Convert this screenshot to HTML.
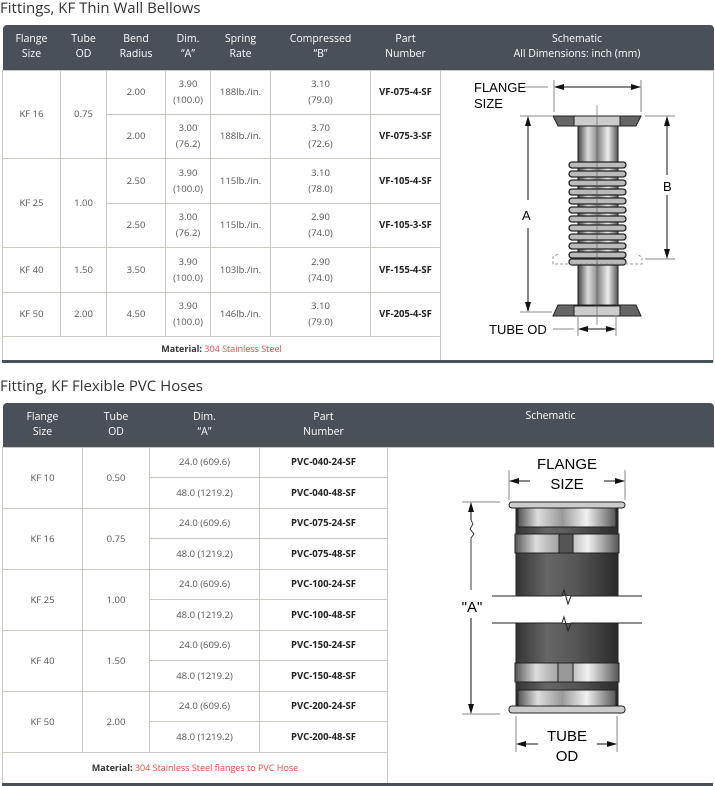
<!DOCTYPE html>
<html><head><meta charset="utf-8"><style>
*{margin:0;padding:0;box-sizing:border-box}
body{width:715px;height:786px;background:#fff;font-family:"Open Sans","Liberation Sans",sans-serif;position:relative;overflow:hidden}
h2{position:absolute;left:0;font-weight:normal;font-size:15px;color:#333;white-space:nowrap}
table{position:absolute;left:2px;border-collapse:collapse;table-layout:fixed}
th{background:#4a5057;color:#fff;font-weight:normal;font-size:10.5px;line-height:15px;text-align:center;vertical-align:middle}
td{border:1px solid #c9c7bf;font-size:9.5px;color:#555;text-align:center;vertical-align:middle;line-height:16px}
td.b{font-weight:bold;color:#222}
td.m{font-size:9px;color:#333}
.r{color:#ef4444}
.bar{position:absolute;left:2px;width:711px;height:3px;background:#4a5057}
svg{position:absolute}
</style></head><body>
<h2 style="top:-2px">Fittings, KF Thin Wall Bellows</h2>
<table style="top:25px;width:711px">
<colgroup><col style="width:58px"><col style="width:46px"><col style="width:59px"><col style="width:45px"><col style="width:60px"><col style="width:100px"><col style="width:70px"><col style="width:273px"></colgroup>
<tr style="height:45px"><th style="border-top-left-radius:4px">Flange<br>Size</th><th>Tube<br>OD</th><th>Bend<br>Radius</th><th>Dim.<br>“A”</th><th>Spring<br>Rate</th><th>Compressed<br>“B”</th><th>Part<br>Number</th><th style="border-top-right-radius:4px">Schematic<br>All Dimensions: inch (mm)</th></tr>
<tr style="height:44px"><td rowspan="2">KF 16</td><td rowspan="2">0.75</td><td>2.00</td><td>3.90<br>(100.0)</td><td>188lb./in.</td><td>3.10<br>(79.0)</td><td class="b">VF-075-4-SF</td><td rowspan="7" style="border-right:1px solid #c9c7bf"></td></tr>
<tr style="height:44px"><td>2.00</td><td>3.00<br>(76.2)</td><td>188lb./in.</td><td>3.70<br>(72.6)</td><td class="b">VF-075-3-SF</td></tr>
<tr style="height:45px"><td rowspan="2">KF 25</td><td rowspan="2">1.00</td><td>2.50</td><td>3.90<br>(100.0)</td><td>115lb./in.</td><td>3.10<br>(78.0)</td><td class="b">VF-105-4-SF</td></tr>
<tr style="height:44px"><td>2.50</td><td>3.00<br>(76.2)</td><td>115lb./in.</td><td>2.90<br>(74.0)</td><td class="b">VF-105-3-SF</td></tr>
<tr style="height:45px"><td>KF 40</td><td>1.50</td><td>3.50</td><td>3.90<br>(100.0)</td><td>103lb./in.</td><td>2.90<br>(74.0)</td><td class="b">VF-155-4-SF</td></tr>
<tr style="height:44px"><td>KF 50</td><td>2.00</td><td>4.50</td><td>3.90<br>(100.0)</td><td>146lb./in.</td><td>3.10<br>(79.0)</td><td class="b">VF-205-4-SF</td></tr>
<tr style="height:25px"><td colspan="7" class="m"><b>Material:</b> <span class="r">304 Stainless Steel</span></td></tr>
</table>
<div class="bar" style="top:360px"></div>

<svg style="left:440px;top:70px" width="273" height="290" viewBox="440 70 273 290" font-family="Liberation Sans,sans-serif">
<defs>
<linearGradient id="m" x1="0" x2="1"><stop offset="0" stop-color="#444"/><stop offset=".25" stop-color="#ddd"/><stop offset=".5" stop-color="#888"/><stop offset=".75" stop-color="#eee"/><stop offset="1" stop-color="#555"/></linearGradient>
<marker id="ar" markerWidth="10" markerHeight="8" refX="9" refY="4" orient="auto"><path d="M0,1L10,4L0,7z" fill="#111"/></marker>
</defs>
<text x="474" y="92" font-size="13">FLANGE</text><text x="474" y="108" font-size="13">SIZE</text>
<line x1="524" y1="87" x2="548" y2="87" stroke="#888"/>
<line x1="554" y1="80" x2="554" y2="112" stroke="#888"/><line x1="641" y1="80" x2="641" y2="112" stroke="#888"/>
<line x1="597" y1="87" x2="555" y2="87" stroke="#111" marker-end="url(#ar)"/><line x1="597" y1="87" x2="640" y2="87" stroke="#111" marker-end="url(#ar)"/>
<line x1="520" y1="116" x2="552" y2="116" stroke="#888"/><line x1="520" y1="312" x2="552" y2="312" stroke="#888"/>
<line x1="528" y1="200" x2="528" y2="117" stroke="#111" marker-end="url(#ar)"/><line x1="528" y1="228" x2="528" y2="311" stroke="#111" marker-end="url(#ar)"/>
<text x="522" y="220" font-size="13">A</text>
<line x1="645" y1="116" x2="675" y2="116" stroke="#888"/><line x1="645" y1="259" x2="675" y2="259" stroke="#888"/>
<line x1="667" y1="175" x2="667" y2="117" stroke="#111" marker-end="url(#ar)"/><line x1="667" y1="195" x2="667" y2="258" stroke="#111" marker-end="url(#ar)"/>
<text x="663" y="191" font-size="13">B</text>
<rect x="578" y="124" width="40" height="184" fill="url(#m)" stroke="#222"/>
<g fill="#bbb" stroke="#222" stroke-width="1.3">
<rect x="569" y="162" width="57" height="6" rx="3"/><rect x="569" y="171" width="57" height="6" rx="3"/><rect x="569" y="180" width="57" height="6" rx="3"/><rect x="569" y="189" width="57" height="6" rx="3"/><rect x="569" y="198" width="57" height="6" rx="3"/><rect x="569" y="207" width="57" height="6" rx="3"/><rect x="569" y="216" width="57" height="6" rx="3"/><rect x="569" y="225" width="57" height="6" rx="3"/><rect x="569" y="234" width="57" height="6" rx="3"/><rect x="569" y="243" width="57" height="6" rx="3"/><rect x="569" y="252" width="57" height="6" rx="3"/><rect x="569" y="259" width="57" height="6" rx="3"/>
</g>
<path d="M553,116H641L636,126H558Z" fill="#666" stroke="#222"/><rect x="574" y="116" width="46" height="10" fill="#ccc" stroke="#222"/>
<path d="M558,305H636L641,316H553Z" fill="#666" stroke="#222"/><rect x="574" y="306" width="46" height="10" fill="#ccc" stroke="#222"/>
<path d="M558,254L553,257V264H642V257L636,254" fill="none" stroke="#999" stroke-dasharray="3,2"/>
<line x1="597" y1="105" x2="597" y2="325" stroke="#555" stroke-width=".6"/>
<text x="489" y="334" font-size="13">TUBE OD</text>
<line x1="553" y1="329" x2="574" y2="329" stroke="#888"/>
<line x1="578" y1="315" x2="578" y2="336" stroke="#888"/><line x1="616" y1="315" x2="616" y2="336" stroke="#888"/>
<line x1="597" y1="329" x2="579" y2="329" stroke="#111" marker-end="url(#ar)"/><line x1="597" y1="329" x2="615" y2="329" stroke="#111" marker-end="url(#ar)"/>
</svg>

<h2 style="top:376px">Fitting, KF Flexible PVC Hoses</h2>
<table style="top:403px;width:711px">
<colgroup><col style="width:80px"><col style="width:67px"><col style="width:110px"><col style="width:128px"><col style="width:326px"></colgroup>
<tr style="height:44px"><th style="border-top-left-radius:4px">Flange<br>Size</th><th>Tube<br>OD</th><th>Dim.<br>“A”</th><th>Part<br>Number</th><th style="border-top-right-radius:4px;vertical-align:top;padding-top:6px">Schematic</th></tr>
<tr style="height:30.5px"><td rowspan="2">KF 10</td><td rowspan="2">0.50</td><td>24.0 (609.6)</td><td class="b">PVC-040-24-SF</td><td rowspan="11" style="border-bottom:none;border-right:none"></td></tr>
<tr style="height:30.5px"><td>48.0 (1219.2)</td><td class="b">PVC-040-48-SF</td></tr>
<tr style="height:30.5px"><td rowspan="2">KF 16</td><td rowspan="2">0.75</td><td>24.0 (609.6)</td><td class="b">PVC-075-24-SF</td></tr>
<tr style="height:30.5px"><td>48.0 (1219.2)</td><td class="b">PVC-075-48-SF</td></tr>
<tr style="height:30.5px"><td rowspan="2">KF 25</td><td rowspan="2">1.00</td><td>24.0 (609.6)</td><td class="b">PVC-100-24-SF</td></tr>
<tr style="height:30.5px"><td>48.0 (1219.2)</td><td class="b">PVC-100-48-SF</td></tr>
<tr style="height:30.5px"><td rowspan="2">KF 40</td><td rowspan="2">1.50</td><td>24.0 (609.6)</td><td class="b">PVC-150-24-SF</td></tr>
<tr style="height:30.5px"><td>48.0 (1219.2)</td><td class="b">PVC-150-48-SF</td></tr>
<tr style="height:30.5px"><td rowspan="2">KF 50</td><td rowspan="2">2.00</td><td>24.0 (609.6)</td><td class="b">PVC-200-24-SF</td></tr>
<tr style="height:30.5px"><td>48.0 (1219.2)</td><td class="b">PVC-200-48-SF</td></tr>
<tr style="height:31px"><td colspan="4" class="m"><b>Material:</b> <span class="r">304 Stainless Steel flanges to PVC Hose</span></td></tr>
</table>
<div class="bar" style="top:783px"></div>

<svg style="left:440px;top:448px" width="273" height="335" viewBox="440 448 273 335" font-family="Liberation Sans,sans-serif">
<defs>
<linearGradient id="m2" x1="0" x2="1"><stop offset="0" stop-color="#555"/><stop offset=".2" stop-color="#ddd"/><stop offset=".45" stop-color="#999"/><stop offset=".7" stop-color="#f2f2f2"/><stop offset="1" stop-color="#555"/></linearGradient>
<linearGradient id="d2" x1="0" x2="1"><stop offset="0" stop-color="#333"/><stop offset=".3" stop-color="#666"/><stop offset=".6" stop-color="#555"/><stop offset="1" stop-color="#2a2a2a"/></linearGradient>
<marker id="ar2" markerWidth="10" markerHeight="8" refX="9" refY="4" orient="auto"><path d="M0,1L10,4L0,7z" fill="#111"/></marker>
</defs>
<text x="567" y="469" font-size="15" text-anchor="middle">FLANGE</text><text x="567" y="489" font-size="15" text-anchor="middle">SIZE</text>
<line x1="509" y1="470" x2="509" y2="500" stroke="#888"/><line x1="625" y1="470" x2="625" y2="500" stroke="#888"/>
<line x1="530" y1="481" x2="510" y2="481" stroke="#111" marker-end="url(#ar2)"/><line x1="604" y1="481" x2="624" y2="481" stroke="#111" marker-end="url(#ar2)"/>
<rect x="516" y="508" width="102" height="88" fill="url(#d2)" stroke="#222"/>
<rect x="518" y="505" width="98" height="22" fill="url(#m2)" stroke="#222"/>
<rect x="509" y="502" width="116" height="6" rx="3" fill="#ccc" stroke="#222"/>
<rect x="515" y="534" width="104" height="19" fill="url(#m2)" stroke="#222"/><rect x="559" y="534" width="14" height="19" fill="#555" stroke="#222"/>
<rect x="516" y="623" width="102" height="82" fill="url(#d2)" stroke="#222"/>
<rect x="515" y="663" width="104" height="19" fill="url(#m2)" stroke="#222"/><rect x="558" y="663" width="15" height="19" fill="#999" stroke="#222"/>
<rect x="518" y="690" width="98" height="17" fill="url(#m2)" stroke="#222"/>
<rect x="509" y="706" width="116" height="7" rx="3" fill="#ccc" stroke="#222"/>
<rect x="490" y="596" width="152" height="27" fill="#fff"/>
<path d="M492,596H562L564,590L568,604L571,596H642" fill="none" stroke="#222"/>
<path d="M492,623H562L564,617L568,631L571,623H642" fill="none" stroke="#222"/>
<line x1="462" y1="502" x2="500" y2="502" stroke="#888"/><line x1="462" y1="714" x2="500" y2="714" stroke="#888"/>
<path d="M471,520L473,524L470,529L474,534L471,538V590" fill="none" stroke="#111" stroke-width=".8"/>
<line x1="471" y1="520" x2="471" y2="503" stroke="#111" marker-end="url(#ar2)"/>
<line x1="471" y1="618" x2="471" y2="713" stroke="#111" marker-end="url(#ar2)"/>
<text x="472" y="612" font-size="15" text-anchor="middle">"A"</text>
<text x="567" y="741" font-size="15" text-anchor="middle">TUBE</text><text x="567" y="761" font-size="15" text-anchor="middle">OD</text>
<line x1="516" y1="716" x2="516" y2="752" stroke="#888"/><line x1="617" y1="716" x2="617" y2="752" stroke="#888"/>
<line x1="538" y1="744" x2="517" y2="744" stroke="#111" marker-end="url(#ar2)"/><line x1="597" y1="744" x2="616" y2="744" stroke="#111" marker-end="url(#ar2)"/>
</svg>
</body></html>
